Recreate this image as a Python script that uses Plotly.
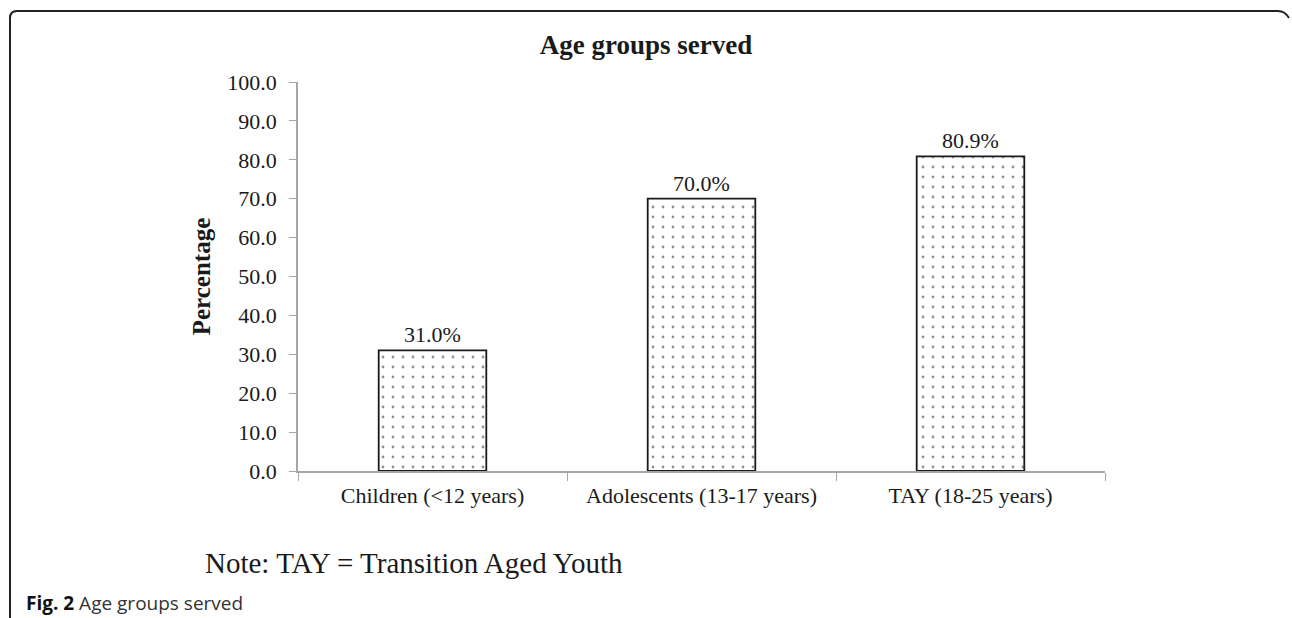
import plotly.graph_objects as go

categories = ["Children (<12 years)", "Adolescents (13-17 years)", "TAY (18-25 years)"]
percentages = [31.0, 70.0, 80.9]
y_ticks = [0, 10, 20, 30, 40, 50, 60, 70, 80, 90, 100]

W, H = 1292, 618
L, R, T, B = 298, 187, 82, 147
PW, PH = W - L - R, H - T - B

def px(x):
    return (x - L) / PW

def py(y):
    return (H - B - y) / PH

serif = "Liberation Serif"

fig = go.Figure(go.Bar(
    x=categories,
    y=percentages,
    width=0.4,
    marker=dict(
        color="white",
        line=dict(color="#1a1a1a", width=1.8),
        pattern=dict(shape=".", fgcolor="#222222", bgcolor="white", size=10, solidity=0.06),
    ),
    texttemplate="%{y:.1f}%",
    textposition="outside",
    textfont=dict(family=serif, size=22, color="#1a1a1a"),
    cliponaxis=False,
))

# panel frame with rounded top corners
r = 7
frame = (f"M {px(10)} {py(618)} L {px(10)} {py(11 + r)} "
         f"Q {px(10)} {py(11)} {px(10 + r)} {py(11)} "
         f"L {px(1285 - r)} {py(11)} Q {px(1285)} {py(11)} {px(1289)} {py(11 + r)}")
fig.add_shape(type="path", path=frame, xref="paper", yref="paper",
              line=dict(color="#222222", width=2))

fig.add_annotation(text="Note: TAY = Transition Aged Youth", xref="paper", yref="paper",
                   x=px(203), y=py(563), xanchor="left", yanchor="middle", showarrow=False,
                   font=dict(family=serif, size=29, color="#1a1a1a"))
fig.add_annotation(text="<b style='color:#111111'>Fig. 2</b> Age groups served", xref="paper", yref="paper",
                   x=px(24), y=py(603), xanchor="left", yanchor="middle", showarrow=False,
                   font=dict(family="Open Sans", size=19, color="#333333"))

fig.update_layout(
    width=W, height=H,
    margin=dict(l=L, r=R, t=T, b=B),
    paper_bgcolor="white", plot_bgcolor="white",
    showlegend=False,
    title=dict(text="<b>Age groups served</b>", x=646 / W, xanchor="center", xref="container",
               y=1 - 45 / H, yanchor="middle", yref="container",
               font=dict(family=serif, size=27, color="#1a1a1a")),
    xaxis=dict(
        showline=True, linecolor="#a6a6a6", linewidth=1.5,
        ticks="outside", tickson="boundaries", ticklen=8, tickcolor="#a6a6a6",
        tickfont=dict(family=serif, size=22, color="#1a1a1a"),
        ticklabelstandoff=4,
        showgrid=False,
    ),
    yaxis=dict(
        range=[0, 100], tickvals=y_ticks, tickformat=".1f",
        showline=True, linecolor="#a6a6a6", linewidth=1.5,
        ticks="outside", ticklen=7, tickcolor="#a6a6a6",
        tickfont=dict(family=serif, size=22, color="#1a1a1a"),
        ticklabelstandoff=8,
        showgrid=False, zeroline=False,
        title=dict(text="<b>Percentage</b>", font=dict(family=serif, size=25, color="#1a1a1a"),
                   standoff=10),
    ),
)

fig.write_html("out.html")
